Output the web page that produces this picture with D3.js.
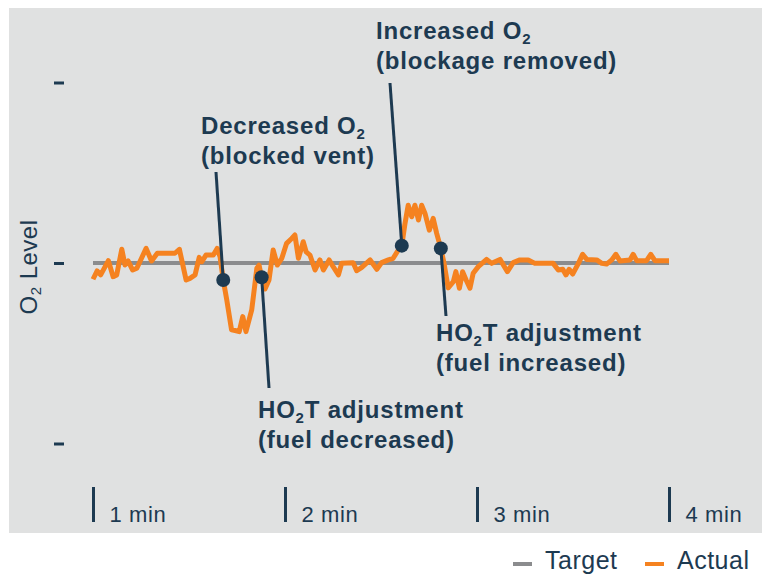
<!DOCTYPE html>
<html>
<head>
<meta charset="utf-8">
<script src="https://cdn.jsdelivr.net/npm/d3@7"></script>
<style>
  body { margin: 0; background: #fff; }
  text { font-family: "Liberation Sans", Arial, sans-serif; }
</style>
</head>
<body>
<svg id="chart" width="768" height="575"></svg>
<script>
// time in seconds, O2 deviation from target (tick = 10)
var times = [60, 61.3, 62.4, 64.8, 66.3, 67.4, 69.0, 70.0, 71.0, 72.4, 73.7, 76.6, 78.3, 80.1, 85.6, 87.0,
  89.1, 90.3, 91.9, 93.2, 94.0, 95.3, 97.6, 98.8, 99.7, 100.7, 101.8, 103.3, 104.4, 105.7, 106.8, 107.8,
  109.6, 111.2, 111.9, 112.7, 113.75, 115.0, 116.3, 117.6, 119.0, 120.5, 122.1, 123.1, 124.2, 125.7, 126.6,
  127.8, 129.4, 130.9, 132.0, 133.8, 135.1, 136.7, 137.7, 141.3, 142.4, 144.0, 146.6, 148.7, 150.2, 152.3,
  153.8, 155.4, 156.5, 157.5, 158.5, 159.6, 160.6, 161.7, 162.7, 163.75, 165.1, 166.3, 167.4, 168.7, 169.7,
  171.0, 172.6, 173.4, 174.5, 175.5, 176.6, 177.8, 178.8, 180.4, 183.0, 184.6, 187.2, 189.5, 191.3, 193.4,
  196.0, 198.1, 203.8, 205.4, 206.8, 207.8, 208.8, 209.9, 211.7, 213.0, 214.3, 217.4, 219.0, 220.5, 222.1,
  223.4, 224.7, 227.8, 228.8, 229.9, 233.0, 234.3, 235.6, 240.0];
var actual = [-0.90, -0.44, -0.66, 0.13, -0.76, -0.66, 0.76, -0.11, 0.11, -0.39, -0.29, 0.81, 0.11, 0.54, 0.54, 0.76,
  -0.94, -0.85, -0.66, 0.31, 0.07, 0.44, 0.44, 0.81, 0.35, -0.94, -2.04, -3.70, -3.74, -3.80, -2.97, -3.80,
  -2.60, -0.29, -0.12, -0.79, -1.44, -0.94, 0.72, -0.11, 0.26, 1.09, 1.36, 1.55, 0.26, 1.18, 0.62,
  0.44, -0.39, 0.17, -0.39, 0.17, -0.22, -0.66, -0.02, 0.02, -0.43, -0.24, 0.17, -0.35, 0.02, 0.17,
  0.26, 0.72, 0.96, 2.19, 3.20, 2.56, 3.20, 2.38, 3.20, 2.75, 1.82, 2.47, 1.64, 0.81, -0.02,
  -1.38, -1.03, -0.48, -1.40, -0.48, -0.94, -1.40, -0.57, -0.20, 0.20, -0.02, 0.20, -0.48, 0.02, 0.17,
  0.17, -0.02, -0.02, -0.39, -0.35, -0.66, -0.35, -0.61, -0.02, 0.48, 0.20, 0.17, -0.02, -0.06, 0.17,
  0.48, 0.11, 0.17, 0.48, 0.13, 0.13, 0.48, 0.13, 0.13];
var target = 0;
var timeTicks = [60, 120, 180, 240];
var levelTicks = [-10, 0, 10];
var legendItems = ["Target", "Actual"];

// annotated events: time of the marked point, text lines (segments, "sub" = subscript)
var events = [
  { t: 100.7, lines: [[["Decreased O"], ["2", "sub"]], [["(blocked vent)"]]] },
  { t: 112.7, lines: [[["HO"], ["2", "sub"], ["T adjustment"]], [["(fuel decreased)"]]] },
  { t: 156.5, lines: [[["Increased O"], ["2", "sub"]], [["(blockage removed)"]]] },
  { t: 168.7, lines: [[["HO"], ["2", "sub"], ["T adjustment"]], [["(fuel increased)"]]] }
];

var navy = "#1d3a51", orange = "#f58220", grey = "#8b8c8e";

var svg = d3.select("#chart");

svg.append("rect").attr("x", 9).attr("y", 8).attr("width", 753).attr("height", 525).attr("fill", "#e0e1e1");

var x = d3.scaleLinear().domain([60, 240]).range([93, 669]);
var y = d3.scaleLinear().domain([-10, 10]).range([443.5, 82.5]);

// y axis: short dashes, no labels
var yAxis = svg.append("g").attr("transform", "translate(64,0)")
  .call(d3.axisLeft(y).tickValues(levelTicks).tickSize(10).tickFormat(""));
yAxis.select(".domain").remove();
yAxis.selectAll(".tick line").attr("stroke", navy).attr("stroke-width", 3);

svg.append("text")
  .attr("transform", "translate(37," + (y(0) + 4) + ") rotate(-90)")
  .attr("text-anchor", "middle")
  .attr("fill", navy).attr("font-size", 24).attr("letter-spacing", 0.5)
  .call(function (t) {
    t.append("tspan").text("O");
    t.append("tspan").attr("font-size", 15).attr("dy", 4).text("2");
    t.append("tspan").attr("dy", -4).text(" Level");
  });

// x axis: ticks going up, labels right of the tick
var xAxis = svg.append("g").attr("transform", "translate(0,522)")
  .call(d3.axisBottom(x).tickValues(timeTicks).tickSize(-35).tickFormat(function (d) { return (d / 60) + " min"; }));
xAxis.select(".domain").remove();
xAxis.selectAll(".tick line").attr("stroke", navy).attr("stroke-width", 3);
xAxis.selectAll(".tick text")
  .attr("fill", navy).attr("font-size", 22).attr("text-anchor", "start")
  .attr("letter-spacing", 0.6)
  .attr("x", 16).attr("y", 0).attr("dy", 0)
  .style("font-family", "'Liberation Sans', Arial, sans-serif");

// target line
svg.append("line")
  .attr("x1", x(60)).attr("x2", x(240)).attr("y1", y(target)).attr("y2", y(target))
  .attr("stroke", grey).attr("stroke-width", 4);

// actual line
var pts = times.map(function (t, i) { return [t, actual[i]]; });
svg.append("path")
  .datum(pts)
  .attr("fill", "none").attr("stroke", orange).attr("stroke-width", 5)
  .attr("stroke-linejoin", "round")
  .attr("d", d3.line().x(function (d) { return x(d[0]); }).y(function (d) { return y(d[1]); }));

// annotations: leader end + text position (layout)
var layout = [
  { lx: 216, ly: 172, tx: 201, ty: 134 },
  { lx: 269, ly: 388, tx: 258, ty: 418 },
  { lx: 390, ly: 83, tx: 376, ty: 39 },
  { lx: 446, ly: 316, tx: 436, ty: 341 }
];

events.forEach(function (ev, i) {
  var k = times.indexOf(ev.t);
  var px = x(ev.t), py = y(actual[k]);
  var L = layout[i];
  svg.append("line").attr("x1", L.lx).attr("y1", L.ly).attr("x2", px).attr("y2", py)
    .attr("stroke", navy).attr("stroke-width", 3);
  svg.append("circle").attr("cx", px).attr("cy", py).attr("r", 7).attr("fill", navy);
  ev.lines.forEach(function (segs, j) {
    var t = svg.append("text").attr("x", L.tx).attr("y", L.ty + j * 30)
      .attr("fill", navy).attr("font-size", 24).attr("font-weight", "bold").attr("letter-spacing", 0.8);
    var shifted = false;
    segs.forEach(function (s) {
      var ts = t.append("tspan").text(s[0]);
      if (s[1] === "sub") { ts.attr("font-size", 15).attr("dy", 5); shifted = true; }
      else if (shifted) { ts.attr("dy", -5); shifted = false; }
    });
  });
});

// legend
var lg = svg.append("g");
[[513, grey, 545], [645, orange, 677]].forEach(function (d, i) {
  lg.append("line").attr("x1", d[0]).attr("x2", d[0] + 19).attr("y1", 564).attr("y2", 564)
    .attr("stroke", d[1]).attr("stroke-width", 4);
  lg.append("text").attr("x", d[2]).attr("y", 569).attr("fill", navy).attr("font-size", 25)
    .attr("letter-spacing", 0.5)
    .text(legendItems[i]);
});
</script>
</body>
</html>
